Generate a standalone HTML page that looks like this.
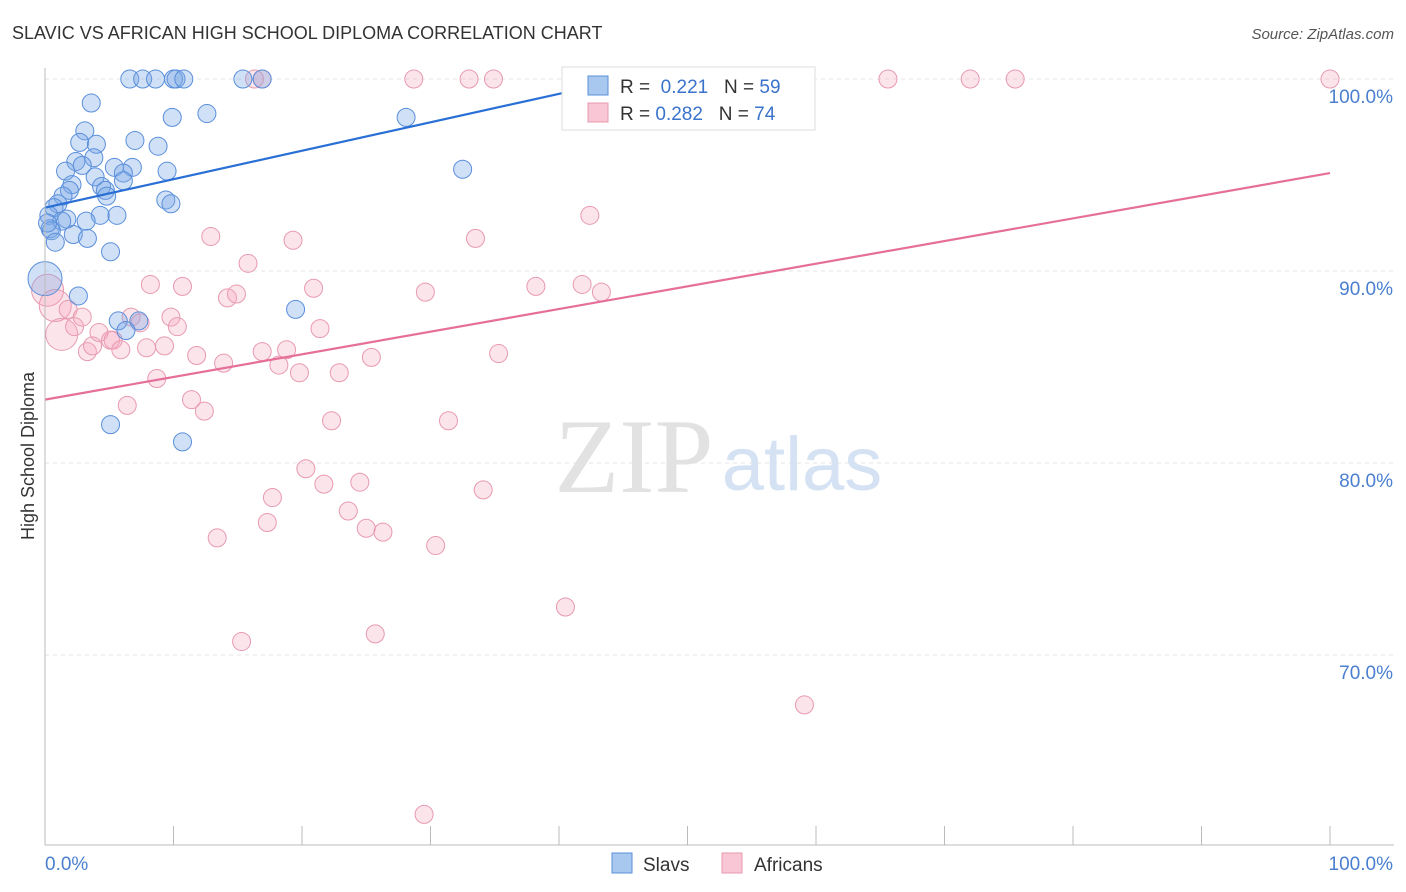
<!DOCTYPE html>
<html><head><meta charset="utf-8"><style>
body{margin:0;background:#fff;font-family:"Liberation Sans",sans-serif}
</style></head><body>
<svg width="1406" height="892" style="display:block">
<text x="12" y="39" font-size="18" fill="#333">SLAVIC VS AFRICAN HIGH SCHOOL DIPLOMA CORRELATION CHART</text>
<text x="1394" y="39" font-size="15" fill="#555" text-anchor="end" font-style="italic">Source: ZipAtlas.com</text>
<g id="grid"></g>
<text x="634" y="492" font-size="106" fill="#e2e2e2" text-anchor="middle" font-family="Liberation Serif">ZIP</text>
<text x="802" y="490" font-size="76" fill="#d5e2f3" text-anchor="middle">atlas</text>
<g id="pts"></g>
<g id="lines"></g>
<line x1="45" y1="68" x2="45" y2="845" stroke="#bbb"/>
<line x1="45" y1="845" x2="1394" y2="845" stroke="#bbb"/>
<g id="ax"></g>
<text transform="translate(34,456) rotate(-90)" font-size="18" fill="#333" text-anchor="middle">High School Diploma</text>
<g>
<rect x="562" y="67" width="253" height="63" fill="#fff" stroke="#ddd"/>
<rect x="588" y="76" width="20" height="19" fill="#a9c8f0" stroke="#5b8fd9"/>
<rect x="588" y="103" width="20" height="19" fill="#f8c6d4" stroke="#e89ab0"/>
<text x="620" y="93" font-size="19" fill="#333">R = <tspan fill="#3a72cc">&#160;0.221</tspan>&#160;&#160;&#160;N = <tspan fill="#3a72cc">59</tspan></text>
<text x="620" y="120" font-size="19" fill="#333">R = <tspan fill="#3a72cc">0.282</tspan>&#160;&#160;&#160;N = <tspan fill="#3a72cc">74</tspan></text>
</g>
<g>
<rect x="612" y="853" width="20" height="20" fill="#a9c8f0" stroke="#5b8fd9"/>
<text x="643" y="871" font-size="19" fill="#333">Slavs</text>
<rect x="722" y="853" width="20" height="20" fill="#f8c6d4" stroke="#e89ab0"/>
<text x="754" y="871" font-size="19" fill="#333">Africans</text>
</g>
</svg>
<script>
const yTicks=[100,90,80,70];
const xTickLabels=["0.0%","100.0%"];
const slavX=[6.6,7.6,8.6,10.0,10.2,10.8,15.4,16.9,3.6,9.9,12.6,28.1,3.1,7.0,8.8,2.7,4.0,3.8,2.4,2.9,5.4,6.8,9.5,32.5,1.6,3.9,6.1,6.1,2.1,4.4,1.9,4.7,4.8,1.4,9.4,9.8,1.0,0.7,0.3,4.3,5.6,1.7,1.3,3.2,0.4,0.5,2.2,3.3,0.8,5.1,0,2.6,19.5,5.7,7.3,6.3,5.1,10.7,0.2];
const slavY=[100,100,100,100,100,100,100,100,98.75,98.0,98.2,98.0,97.3,96.8,96.5,96.7,96.6,95.9,95.7,95.5,95.4,95.4,95.2,95.3,95.2,94.9,95.1,94.7,94.5,94.4,94.2,94.2,93.9,93.9,93.7,93.5,93.5,93.3,92.9,92.9,92.9,92.7,92.6,92.6,92.2,92.1,91.9,91.7,91.5,91.0,89.6,88.7,88.0,87.4,87.4,86.9,82.0,81.1,92.5];
const afrX=[0.2,0.8,1.3,2.3,1.8,2.9,3.3,3.7,4.2,5.1,5.3,5.9,6.4,6.7,7.4,7.9,8.2,8.7,9.3,9.8,10.3,10.7,11.4,11.8,12.4,12.9,13.4,13.9,14.2,14.9,15.3,15.8,16.9,17.3,17.7,18.2,18.8,19.3,19.8,20.3,20.9,21.4,21.7,22.3,22.9,23.6,24.5,25.0,25.4,25.7,26.3,28.7,29.6,29.5,30.4,31.4,33.0,33.5,34.1,34.9,35.3,38.2,40.5,41.8,42.4,43.3,52.4,59.1,65.6,72.0,75.5,100,16.9,16.3];
const afrY=[89.0,88.2,86.7,87.1,88.0,87.6,85.8,86.1,86.8,86.4,86.4,85.9,83.0,87.6,87.3,86.0,89.3,84.4,86.1,87.6,87.1,89.2,83.3,85.6,82.7,91.8,76.1,85.2,88.6,88.8,70.7,90.4,85.8,76.9,78.2,85.1,85.9,91.6,84.7,79.7,89.1,87.0,78.9,82.2,84.7,77.5,79.0,76.6,85.5,71.1,76.4,100,88.9,61.7,75.7,82.2,100,91.7,78.6,100,85.7,89.2,72.5,89.3,92.9,88.9,100,67.4,100,100,100,100,100,100];
const slavBig=[50];const afrBig=[0,1,2];
const slavLine=[[0,93.3],[40.5,99.3]];
const afrLine=[[0,83.3],[100,95.1]];
const X=v=>45+v*12.85, Y=v=>79+(100-v)*19.2;
const NS="http://www.w3.org/2000/svg";
function mk(t,a,p){const e=document.createElementNS(NS,t);for(const k in a)e.setAttribute(k,a[k]);p.appendChild(e);return e;}
const grid=document.getElementById('grid'),ax=document.getElementById('ax');
yTicks.forEach(t=>{const l=mk('line',{x1:45,x2:1394,y1:Y(t),y2:Y(t),stroke:'#e4e4e4','stroke-dasharray':'4,4'},grid);


const tx=mk('text',{x:1393,y:Y(t)+24,'font-size':19,fill:'#4a7fd0','text-anchor':'end'},ax);tx.textContent=t.toFixed(1)+'%';

});
for(let i=0;i<=10;i++){const l=mk('line',{x1:X(i*10),x2:X(i*10),y1:826,y2:845,stroke:'#bbb'},ax);

}
const x0=mk('text',{x:45,y:870,'font-size':19,fill:'#4a7fd0'},ax);x0.textContent=xTickLabels[0];


const x1=mk('text',{x:1393,y:870,'font-size':19,fill:'#4a7fd0','text-anchor':'end'},ax);x1.textContent=xTickLabels[1];


const pts=document.getElementById('pts');
afrX.forEach((x,i)=>{const c=mk('circle',{cx:X(x),cy:Y(afrY[i]),r:afrBig.includes(i)?16:9,fill:'rgba(245,165,188,0.3)',stroke:'#e89ab0','stroke-width':1},pts);

});
slavX.forEach((x,i)=>{const c=mk('circle',{cx:X(x),cy:Y(slavY[i]),r:slavBig.includes(i)?17:9,fill:'rgba(120,165,230,0.35)',stroke:'#5a8fdb','stroke-width':1},pts);

});
const lines=document.getElementById('lines');
const a=mk('line',{x1:X(slavLine[0][0]),y1:Y(slavLine[0][1]),x2:X(slavLine[1][0]),y2:Y(slavLine[1][1]),stroke:'#2a6fd6','stroke-width':2.2},lines);


const b=mk('line',{x1:X(afrLine[0][0]),y1:Y(afrLine[0][1]),x2:X(afrLine[1][0]),y2:Y(afrLine[1][1]),stroke:'#e56f99','stroke-width':2.2},lines);


</script>
</body></html>
